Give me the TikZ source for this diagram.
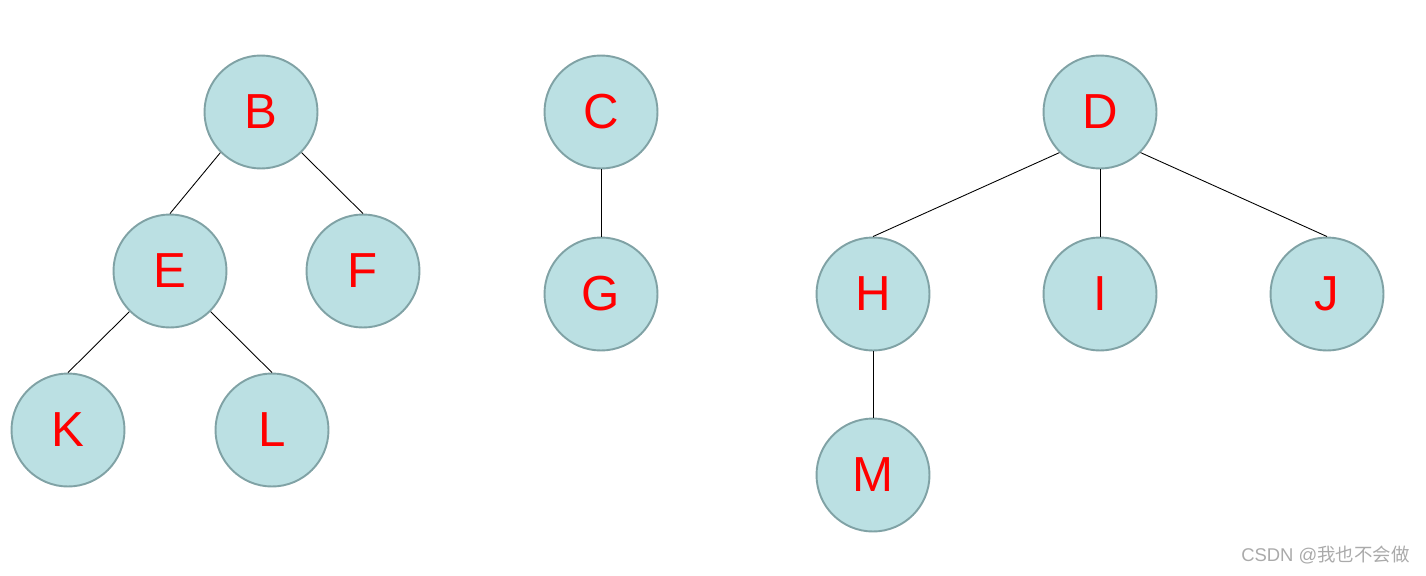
\documentclass[tikz,border=0pt]{standalone}
\usepackage{fontspec}
\setmainfont{Liberation Sans}
\newfontfamily\cjkfont{Noto Sans CJK SC}
\usepackage{xcolor}
\usepackage{tikz}
\definecolor{tFill}{RGB}{187,224,227}
\definecolor{tRim}{RGB}{128,162,165}
\definecolor{tMark}{RGB}{170,170,170}
\tikzset{
  tNode/.style={circle,draw=tRim,fill=tFill,line width=1.1pt,minimum size=2.26cm,
        inner sep=0pt,text=red,font=\fontsize{28}{30}\selectfont},
  tEdge/.style={line width=.5pt,black},
  tMarkText/.style={text=tMark,font=\fontsize{10.5}{12}\selectfont,inner sep=0pt},
}

\begin{document}
\begin{tikzpicture}[x=0.02cm,y=-0.02cm]
\useasboundingbox (0,0) rectangle (1426,575);
\node[tNode] (b) at (261,112) {B};
\node[tNode] (e) at (170,271) {E};
\node[tNode] (f) at (363,271) {F};
\node[tNode] (k) at (68,430)  {K};
\node[tNode] (l) at (272,430) {L};
\node[tNode] (c) at (601,112) {C};
\node[tNode] (g) at (601,294) {G};
\node[tNode] (d) at (1100,112) {D};
\node[tNode] (h) at (873,294) {H};
\node[tNode] (i) at (1100,294) {I};
\node[tNode] (j) at (1327,294) {J};
\node[tNode] (m) at (873,475) {M};
\node[tMarkText,anchor=east] (wm) at (1410,555) {CSDN @{\cjkfont 我也不会做}};

\draw[tEdge] (b.south west) -- (e.north);
\draw[tEdge] (b.south east) -- (f.north);
\draw[tEdge] (e.south west) -- (k.north);
\draw[tEdge] (e.south east) -- (l.north);
\draw[tEdge] (c.south) -- (g.north);
\draw[tEdge] (d.south west) -- (h.north);
\draw[tEdge] (d.south) -- (i.north);
\draw[tEdge] (d.south east) -- (j.north);
\draw[tEdge] (h.south) -- (m.north);
\end{tikzpicture}
\end{document}
